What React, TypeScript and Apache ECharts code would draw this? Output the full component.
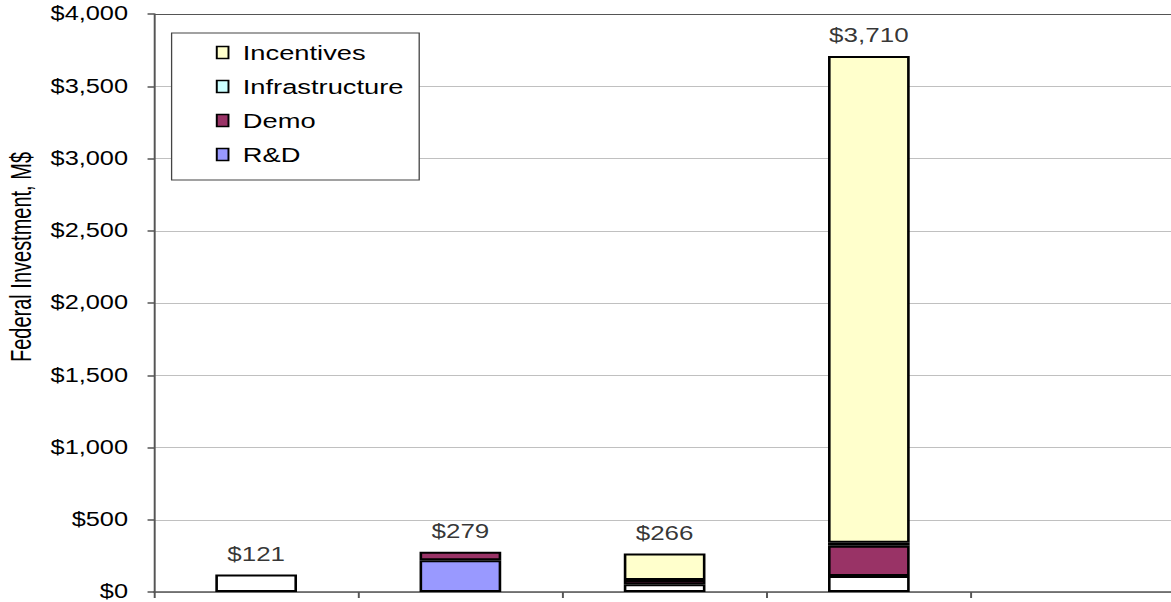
import React, { useEffect, useRef } from 'react';
import * as echarts from 'echarts';

const categories = ['1', '2', '3', '4', '5'];
const other = [121, null, 53, 110, null];
const rnd = [null, 220, null, null, null];
const demo = [null, 59, 30, 210, null];
const infrastructure = [null, null, null, 20, null];
const incentives = [null, null, 183, 3370, null];
const totals = [121, 279, 266, 3710, null];
const yTickLabels = ['$0', '$500', '$1,000', '$1,500', '$2,000', '$2,500', '$3,000', '$3,500', '$4,000'];
const yAxisTitle = 'Federal Investment, M$';

const SX = 1.3;
const W = 904;
const H = 602;
const FONT = '"Liberation Sans", Arial, sans-serif';

export default function App() {
  const ref = useRef<HTMLDivElement>(null);
  useEffect(() => {
    if (!ref.current) return;
    const chart = echarts.init(ref.current, null, { renderer: 'svg' });
    const border = { borderColor: '#000', borderWidth: 2 };
    const barBase = (name: string, data: any[], color: string) => ({
      name,
      type: 'bar',
      stack: 'total',
      barWidth: '40%',
      data,
      itemStyle: { color, ...border },
      emphasis: { disabled: true },
    });
    const gridColors = ['#c0c0c0', '#c0c0c0', '#c0c0c0', '#c0c0c0', '#c0c0c0', '#c0c0c0', '#c0c0c0', '#c0c0c0', '#555'];
    chart.setOption({
      animation: false,
      textStyle: { fontFamily: FONT },
      grid: { left: 118.5, right: 0, top: 14, bottom: 10, containLabel: false },
      legend: {
        data: ['Incentives', 'Infrastructure', 'Demo', 'R&D'],
        icon: 'rect',
        orient: 'vertical',
        left: 132,
        top: 33,
        itemWidth: 9,
        itemHeight: 12,
        itemGap: 13,
        padding: [9, 12, 15, 34],
        borderColor: '#444',
        borderWidth: 1,
        backgroundColor: '#fff',
        itemStyle: { borderColor: '#000', borderWidth: 1.5 },
        textStyle: { fontSize: 21, color: '#000', fontFamily: FONT, padding: [0, 0, 0, 6] },
      },
      xAxis: {
        type: 'category',
        data: categories,
        axisLine: { lineStyle: { color: '#555', width: 1.5 } },
        axisTick: { show: true, length: 6, lineStyle: { color: '#555', width: 1.5 } },
        axisLabel: { show: false },
      },
      yAxis: {
        type: 'value',
        min: 0,
        max: 4000,
        interval: 500,
        axisLine: { show: true, lineStyle: { color: '#555', width: 1.5 } },
        axisTick: { show: true, length: 5, lineStyle: { color: '#555', width: 1.5 } },
        axisLabel: {
          fontSize: 19.5,
          color: '#000',
          margin: 20,
          formatter: (v: number) => yTickLabels[Math.round(v / 500)] ?? '',
        },
        splitLine: { show: true, lineStyle: { color: gridColors, width: 1 } },
      },
      graphic: [
        {
          type: 'text',
          x: 16,
          y: 257,
          rotation: Math.PI / 2,
          scaleY: 1.12,
          style: {
            text: yAxisTitle,
            fontSize: 20,
            fontFamily: FONT,
            fill: '#000',
            align: 'center',
            verticalAlign: 'middle',
          },
        },
      ],
      series: [
        barBase('Other', other, '#ffffff'),
        barBase('R&D', rnd, '#9999ff'),
        barBase('Demo', demo, '#993366'),
        barBase('Infrastructure', infrastructure, '#ccffff'),
        barBase('Incentives', incentives, '#ffffcc'),
        {
          name: 'Total',
          type: 'scatter',
          data: totals,
          symbolSize: 1,
          itemStyle: { color: 'rgba(0,0,0,0)' },
          silent: true,
          label: {
            show: true,
            position: 'top',
            distance: 10,
            fontSize: 20,
            color: '#000',
            fontFamily: FONT,
            formatter: (p: any) => '$' + Number(p.value).toLocaleString('en-US'),
          },
        },
      ],
    });
    return () => chart.dispose();
  }, []);
  return (
    <div
      ref={ref}
      style={{
        position: 'fixed',
        left: 0,
        top: 0,
        width: W,
        height: H,
        transform: `scaleX(${SX})`,
        transformOrigin: '0 0',
        background: '#fff',
      }}
    />
  );
}
